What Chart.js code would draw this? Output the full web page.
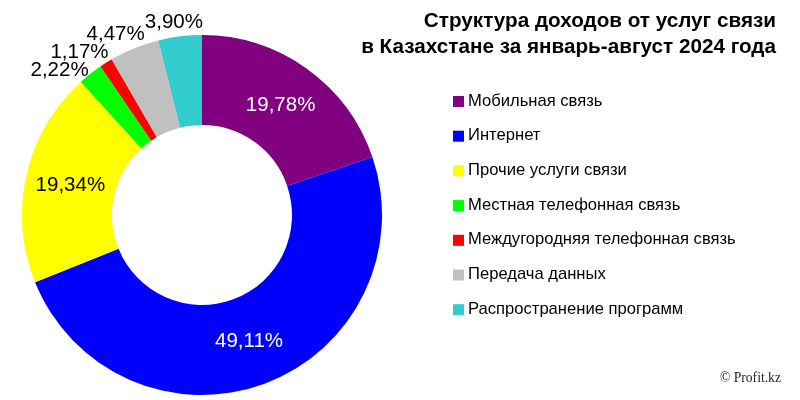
<!DOCTYPE html>
<html>
<head>
<meta charset="utf-8">
<script src="https://cdn.jsdelivr.net/npm/chart.js@4"></script>
<style>
  body { margin: 0; background: #fff; }
</style>
</head>
<body>
<canvas id="incomeChart" width="800" height="400"></canvas>
<script>
// Data
const categories = [
    'Мобильная связь',
    'Интернет',
    'Прочие услуги связи',
    'Местная телефонная связь',
    'Междугородняя телефонная связь',
    'Передача данных',
    'Распространение программ'
];
const shares = [19.78, 49.11, 19.34, 2.22, 1.17, 4.47, 3.90];
const titleLines = [
    'Структура доходов от услуг связи',
    'в Казахстане за январь-август 2024 года'
];
const creditText = '© Profit.kz';

const sliceColors = ['#800080', '#0000ff', '#ffff00', '#00ff00', '#ff0000', '#c0c0c0', '#33cccc'];
const FONT = '"Liberation Sans", Arial, sans-serif';

// Percent labels on / around the slices
const sliceLabels = {
    id: 'sliceLabels',
    afterDatasetsDraw(chart) {
        const ctx = chart.ctx;
        const meta = chart.getDatasetMeta(0);
        const values = chart.data.datasets[0].data;
        const clamp = v => Math.max(-1, Math.min(1, v));
        let prevBox = null;
        ctx.save();
        ctx.font = '20.5px ' + FONT;
        ctx.textBaseline = 'middle';
        ctx.textAlign = 'center';
        // go from the last slice backwards so the outside labels stack from the top down
        for (let i = meta.data.length - 1; i >= 0; i--) {
            const arc = meta.data[i].getProps(['x', 'y', 'startAngle', 'endAngle', 'innerRadius', 'outerRadius'], true);
            const mid = (arc.startAngle + arc.endAngle) / 2;
            const text = values[i].toFixed(2).replace('.', ',') + '%';
            if (values[i] > 10) {
                const r = (arc.innerRadius + arc.outerRadius) / 2;
                ctx.fillStyle = sliceColors[i] === '#ffff00' ? '#000' : '#fff';
                ctx.fillText(text, arc.x + r * Math.cos(mid), arc.y + r * Math.sin(mid));
            } else {
                const w = ctx.measureText(text).width;
                const h = 16;
                const r = arc.outerRadius + 6;
                const px = arc.x + r * Math.cos(mid);
                const py = arc.y + r * Math.sin(mid);
                let lx = px + (w / 2) * clamp(1.5 * Math.cos(mid));
                let ly = py + (h / 2) * clamp(1.5 * Math.sin(mid));
                if (prevBox && ly - h / 2 < prevBox.bottom &&
                    lx - w / 2 < prevBox.right && lx + w / 2 > prevBox.left) {
                    ly = prevBox.bottom + h / 2 + 2;
                }
                prevBox = { left: lx - w / 2, right: lx + w / 2, bottom: ly + h / 2 };
                ctx.fillStyle = '#000';
                ctx.fillText(text, lx, ly);
            }
        }
        ctx.restore();
    }
};

// Title, legend and credit on the right side
const sideText = {
    id: 'sideText',
    afterDraw(chart) {
        const ctx = chart.ctx;
        ctx.save();
        ctx.fillStyle = '#000';
        ctx.font = 'bold 20.7px ' + FONT;
        ctx.textAlign = 'right';
        ctx.textBaseline = 'alphabetic';
        ctx.fillText(titleLines[0], 776, 27);
        ctx.fillText(titleLines[1], 776, 53);

        ctx.font = '16.6px ' + FONT;
        ctx.textAlign = 'left';
        ctx.textBaseline = 'middle';
        chart.data.labels.forEach((label, i) => {
            const y = 101 + i * 34.7;
            ctx.fillStyle = sliceColors[i];
            ctx.fillRect(453, y - 5, 11, 11);
            ctx.fillStyle = '#000';
            ctx.fillText(label, 468, y);
        });

        ctx.font = '13.6px "Liberation Serif", "Times New Roman", serif';
        ctx.fillStyle = '#222';
        ctx.fillText(creditText, 720, 378);
        ctx.restore();
    }
};

let incomeCanvas = document.getElementById('incomeChart');
let incomeChart = new Chart(incomeCanvas, {
    type: 'doughnut',
    data: {
        labels: categories,
        datasets: [{
            data: shares,
            backgroundColor: sliceColors,
            borderWidth: 0,
            hoverOffset: 0
        }]
    },
    options: {
        responsive: false,
        animation: false,
        cutout: '50%',
        layout: {
            padding: { left: 22, top: 35, right: 418, bottom: 5 }
        },
        plugins: {
            legend: { display: false },
            tooltip: { enabled: false }
        }
    },
    plugins: [sliceLabels, sideText]
});
</script>
</body>
</html>
